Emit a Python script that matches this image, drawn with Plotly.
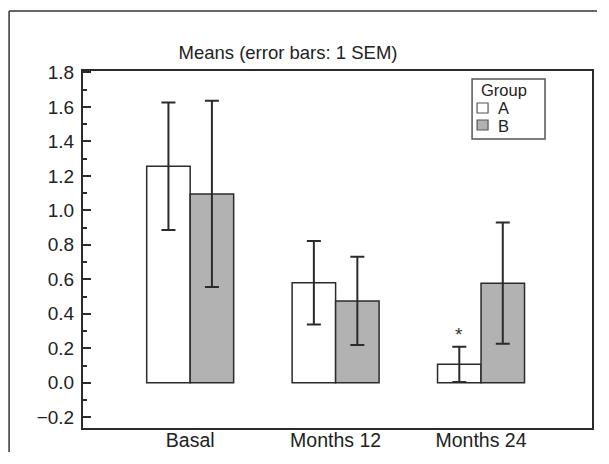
import plotly.graph_objects as go

categories = ["Basal", "Months 12", "Months 24"]
group_a_means = [1.256, 0.580, 0.107]
group_a_sem = [0.370, 0.242, 0.102]
group_b_means = [1.095, 0.475, 0.578]
group_b_sem = [0.540, 0.256, 0.352]
y_ticks = [-0.2, 0.0, 0.2, 0.4, 0.6, 0.8, 1.0, 1.2, 1.4, 1.6, 1.8]

# page body has an 8px margin; work in window pixels and convert
OFF = 8
W, H = 609 - 2 * OFF - 4, 464 - 2 * OFF - 4
PL, PR, PT, PB = 82.7, 592, 71, 428  # plot area in window px
ML, MR, MT, MB = PL - OFF, (W + OFF) - PR, PT - OFF, (H + OFF) - PB
PW, PH = PR - PL, PB - PT

def px_x(x):
    return (x - PL) / PW

def px_y(y):
    return (PB - y) / PH

FONT = "Liberation Sans, Arial, Helvetica, sans-serif"
DARK = "#2b2b2b"
COLOR_A = "#ffffff"
COLOR_B = "#b2b2b2"

fig = go.Figure()
fig.add_trace(go.Bar(
    name="A", x=categories, y=group_a_means,
    marker=dict(color=COLOR_A, line=dict(color=DARK, width=1.5)),
    error_y=dict(type="data", array=group_a_sem, visible=True, color=DARK, thickness=2, width=7),
))
fig.add_trace(go.Bar(
    name="B", x=categories, y=group_b_means,
    marker=dict(color=COLOR_B, line=dict(color=DARK, width=1.5)),
    error_y=dict(type="data", array=group_b_sem, visible=True, color=DARK, thickness=2, width=7),
))

frame_left = OFF + 0.75
frame_top = 11
shapes = [
    # outer frame (top and left edges; the others lie outside the view)
    dict(type="line", xref="paper", yref="paper",
         x0=px_x(frame_left), x1=px_x(W + OFF), y0=px_y(frame_top), y1=px_y(frame_top),
         line=dict(color="#333333", width=1.5)),
    dict(type="line", xref="paper", yref="paper",
         x0=px_x(frame_left), x1=px_x(frame_left), y0=px_y(frame_top), y1=px_y(H + OFF),
         line=dict(color="#333333", width=1.5)),
    # legend box
    dict(type="rect", xref="paper", yref="paper",
         x0=px_x(472), x1=px_x(545), y0=px_y(139), y1=px_y(79),
         line=dict(color="#555555", width=1.5), fillcolor="white"),
    dict(type="rect", xref="paper", yref="paper",
         x0=px_x(477), x1=px_x(488), y0=px_y(113), y1=px_y(103),
         line=dict(color="#555555", width=1.2), fillcolor=COLOR_A),
    dict(type="rect", xref="paper", yref="paper",
         x0=px_x(477), x1=px_x(488), y0=px_y(130), y1=px_y(120),
         line=dict(color="#555555", width=1.2), fillcolor=COLOR_B),
]

annotations = [
    dict(xref="paper", yref="paper", x=px_x(504), y=px_y(89.5), text="Group",
         showarrow=False, xanchor="center", yanchor="middle",
         font=dict(family=FONT, size=16.5, color="#222")),
    dict(xref="paper", yref="paper", x=px_x(496), y=px_y(108), text="A",
         showarrow=False, xanchor="left", yanchor="middle",
         font=dict(family=FONT, size=16.5, color="#222")),
    dict(xref="paper", yref="paper", x=px_x(496), y=px_y(125.5), text="B",
         showarrow=False, xanchor="left", yanchor="middle",
         font=dict(family=FONT, size=16.5, color="#222")),
    dict(x=categories[2], y=group_a_means[2] + group_a_sem[2], xshift=-22, yshift=0,
         text="*", showarrow=False, xanchor="center", yanchor="bottom",
         font=dict(family=FONT, size=19, color="#333")),
]

fig.update_layout(
    width=W, height=H,
    margin=dict(l=ML, r=MR, t=MT, b=MB, pad=0, autoexpand=False),
    paper_bgcolor="white", plot_bgcolor="white",
    barmode="group", bargap=0.402, bargroupgap=0,
    showlegend=False,
    font=dict(family=FONT, size=18, color="#222"),
    title=dict(text="Means (error bars: 1 SEM)", x=(288 - OFF) / W, xanchor="center",
               y=1 - (53 - OFF) / H, yanchor="middle", font=dict(family=FONT, size=18.5, color="#222")),
    shapes=shapes, annotations=annotations,
)
fig.update_xaxes(
    type="category", range=[-0.737, 2.763],
    showline=True, linecolor=DARK, linewidth=2, mirror=True,
    ticks="", showgrid=False, zeroline=False, ticklabelstandoff=-6,
    tickfont=dict(family=FONT, size=19.5, color="#222"),
)
fig.update_yaxes(
    range=[-0.262, 1.808],
    tickvals=y_ticks, tickformat=".1f",
    showline=True, linecolor=DARK, linewidth=2, mirror=True,
    ticks="inside", ticklen=8, tickwidth=1.5, tickcolor=DARK,
    minor=dict(dtick=0.1, tick0=0, ticks="inside", ticklen=4, tickwidth=1.5, tickcolor=DARK, showgrid=False),
    showgrid=False, zeroline=False, ticklabelstandoff=3,
    tickfont=dict(family=FONT, size=19, color="#222"),
)

fig.write_html("out.html")
